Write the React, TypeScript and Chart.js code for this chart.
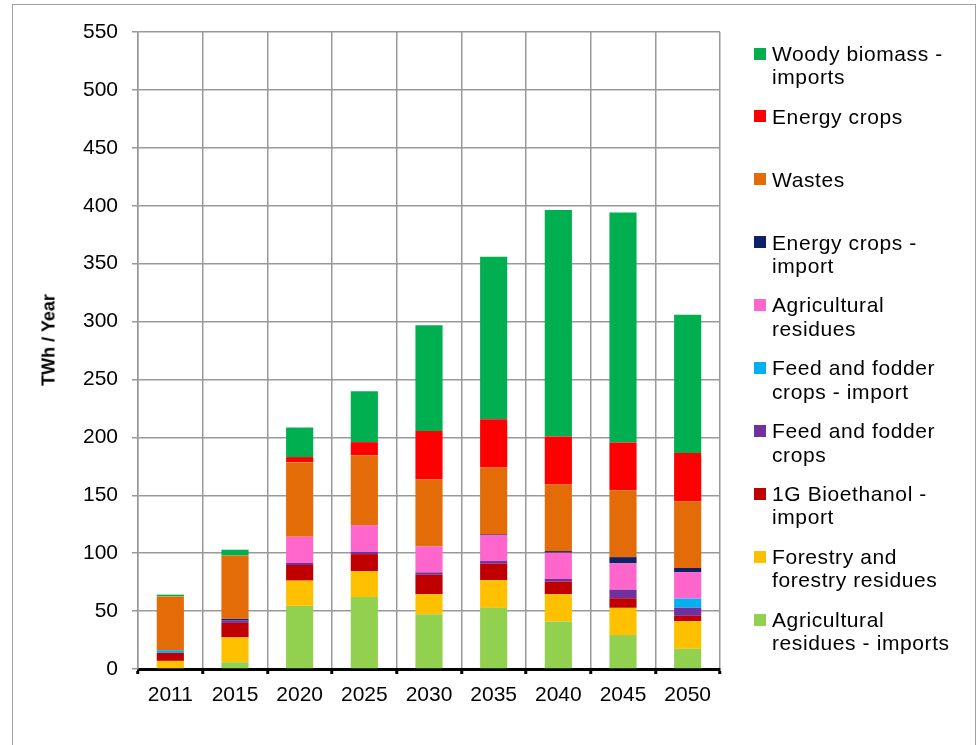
import React, { useEffect, useRef } from "react";
import { Chart, registerables } from "chart.js";

Chart.register(...registerables);

const years = ["2011", "2015", "2020", "2025", "2030", "2035", "2040", "2045", "2050"];

const agriResiduesImports = [0, 5.8, 54.5, 62.2, 47.3, 52.8, 41, 29.3, 17.5];
const forestryResidues = [7, 21.5, 21.8, 22.4, 17.2, 23.8, 23.5, 23.5, 23.8];
const bioethanolImport = [7, 12.5, 13.5, 14.6, 16.9, 14.3, 10.9, 8.3, 4.6];
const feedFodderCrops = [0, 2, 1.7, 2, 2, 2.3, 2.3, 7.4, 7.1];
const feedFodderImport = [2.3, 0, 0, 0, 0, 0, 0, 0, 7.8];
const agriResidues = [0, 0, 22.6, 23, 22.3, 22.6, 22.7, 22.7, 22.9];
const energyCropsImport = [0, 1.5, 0, 0, 0, 0.6, 1.4, 5.4, 3.5];
const wastes = [46.4, 54.7, 64.3, 60.2, 58.2, 57.6, 57.6, 57.7, 57.6];
const energyCrops = [0, 0, 4.6, 11.5, 41.6, 41.6, 41.3, 41.3, 41.6];
const woodyBiomassImports = [1.5, 5, 25.5, 44, 91.4, 140.4, 195.6, 198.6, 119.5];

const yTickStep = 50;
const yMax = 550;

// bottom-to-top stacking order
const series = [
  { label: ["Agricultural", "residues - imports"], data: agriResiduesImports, color: "#92D050" },
  { label: ["Forestry and", "forestry residues"], data: forestryResidues, color: "#FFC000" },
  { label: ["1G Bioethanol -", "import"], data: bioethanolImport, color: "#C00000" },
  { label: ["Feed and fodder", "crops"], data: feedFodderCrops, color: "#7030A0" },
  { label: ["Feed and fodder", "crops - import"], data: feedFodderImport, color: "#00B0F0" },
  { label: ["Agricultural", "residues"], data: agriResidues, color: "#FF66CC" },
  { label: ["Energy crops -", "import"], data: energyCropsImport, color: "#0F2167" },
  { label: ["Wastes"], data: wastes, color: "#E36C09" },
  { label: ["Energy crops"], data: energyCrops, color: "#FF0000" },
  { label: ["Woody biomass -", "imports"], data: woodyBiomassImports, color: "#00B050" },
];

const FONT = "'Liberation Sans', Arial, Helvetica, sans-serif";
const GRID = "#999999";

export default function App() {
  const ref = useRef<HTMLCanvasElement>(null);

  useEffect(() => {
    const chart = new Chart(ref.current!, {
      type: "bar",
      data: {
        labels: years,
        datasets: series.map((s) => ({
          label: s.label.join(" "),
          data: s.data,
          backgroundColor: s.color,
          borderWidth: 0,
          barPercentage: 0.42,
          categoryPercentage: 1,
          stack: "total",
        })),
      },
      options: {
        responsive: false,
        animation: false,
        layout: { padding: { top: 32, right: 257, bottom: 0, left: 0 } },
        plugins: {
          legend: { display: false },
          tooltip: { enabled: false },
        },
        scales: {
          x: {
            stacked: true,
            grid: {
              offset: true,
              color: GRID,
              lineWidth: 1.5,
              tickColor: "#000",
              tickLength: 5,
              tickWidth: 3,
            },
            border: { color: "#000", width: 3 },
            ticks: {
              color: "#000",
              font: { family: FONT, size: 21 },
              padding: 9,
              maxRotation: 0,
              autoSkip: false,
            },
            afterFit: (s: any) => {
              s.height = 76;
            },
          },
          y: {
            stacked: true,
            min: 0,
            max: yMax,
            ticks: {
              stepSize: yTickStep,
              color: "#000",
              font: { family: FONT, size: 21 },
              padding: 14,
            },
            grid: { color: GRID, lineWidth: 1.5, tickLength: 6, tickColor: GRID },
            border: { color: GRID, width: 1.5 },
            afterFit: (s: any) => {
              s.width = 138;
            },
          },
        },
      },
    });
    return () => chart.destroy();
  }, []);

  const legendItems = [...series].reverse();

  return (
    <div
      style={{
        position: "absolute",
        left: 0,
        top: 0,
        width: 977,
        height: 745,
        background: "#fff",
        overflow: "hidden",
        fontFamily: FONT,
      }}
    >
      <div
        style={{
          position: "absolute",
          left: 12,
          top: 4,
          width: 964,
          height: 760,
          border: "1px solid #a0a0a0",
          boxSizing: "border-box",
        }}
      />
      <canvas ref={ref} width={977} height={745} style={{ position: "absolute", left: 0, top: 0 }} />
      <div
        style={{
          position: "absolute",
          left: 49,
          top: 340,
          transform: "translate(-50%, -50%) rotate(-90deg)",
          fontWeight: "bold",
          fontSize: 18,
          whiteSpace: "nowrap",
          color: "#000",
        }}
      >
        TWh / Year
      </div>
      {legendItems.map((s, i) => {
        const cy = 53.5 + 62.9 * i;
        return (
          <React.Fragment key={i}>
            <div
              style={{
                position: "absolute",
                left: 754,
                top: cy - 6,
                width: 12,
                height: 12,
                background: s.color,
              }}
            />
            <div
              style={{
                position: "absolute",
                left: 772,
                top: cy - 11.65,
                fontSize: 21,
                lineHeight: "23.3px",
                letterSpacing: "0.6px",
                color: "#000",
                whiteSpace: "nowrap",
              }}
            >
              {s.label.map((l, j) => (
                <div key={j}>{l}</div>
              ))}
            </div>
          </React.Fragment>
        );
      })}
    </div>
  );
}
